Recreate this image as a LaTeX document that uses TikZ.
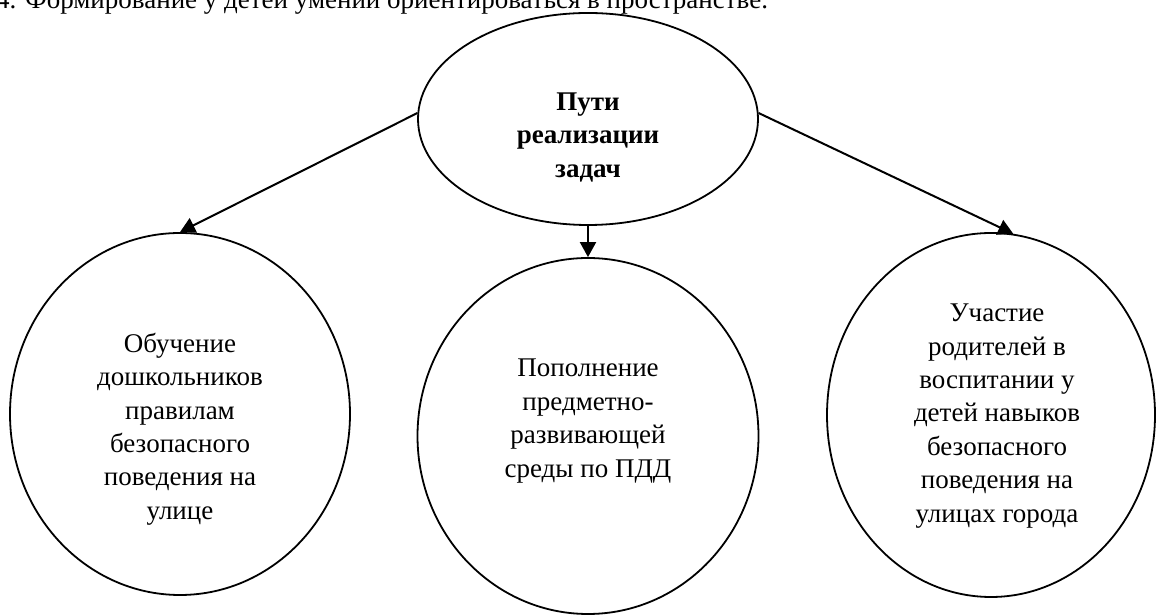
\documentclass[tikz,border=0pt]{standalone}
\usepackage{fontspec}
\setmainfont{Liberation Serif}
\usetikzlibrary{shapes.geometric,arrows.meta}
\tikzset{
  oval/.style={draw, line width=1.8pt, ellipse, inner sep=0pt},
  lbl/.style={align=center, font=\fontsize{27}{33.4}\selectfont, inner sep=0pt},
  conn/.style={line width=2pt, -{Triangle[length=15pt,width=16pt]}}
}
\begin{document}
\begin{tikzpicture}[x=1pt,y=1pt]
\clip (0,0) rectangle (1156,615);
\fill[white] (0,0) rectangle (1156,615);
\node[anchor=base west, inner sep=0pt, font=\fontsize{27}{33}\selectfont] (head) at (-4,606) {4. Формирование у детей умений ориентироваться в пространстве.};
\node[oval, minimum width=340pt, minimum height=212pt] (top) at (588,496) {};
\node[oval, minimum width=340pt, minimum height=362pt] (left) at (180,201) {};
\node[oval, minimum width=341pt, minimum height=356pt] (mid) at (588,179) {};
\node[oval, minimum width=328pt, minimum height=364pt] (right) at (991,200) {};
\node[lbl, font=\bfseries\fontsize{27}{33.4}\selectfont] (ttop) at (588,477.5) {Пути\\реализации\\задач};
\node[lbl] (tleft) at (180,186) {Обучение\\дошкольников\\правилам\\безопасного\\поведения на\\улице};
\node[lbl] (tmid) at (588,194) {Пополнение\\предметно-\\развивающей\\среды по ПДД};
\node[lbl] (tright) at (997,199) {Участие\\родителей в\\воспитании у\\детей навыков\\безопасного\\поведения на\\улицах города};
\draw[conn] (top.178) -- (left.north);
\draw[conn] (top.south) -- (mid.north);
\draw[conn] (top.2) -- (right.83);
\end{tikzpicture}
\end{document}
